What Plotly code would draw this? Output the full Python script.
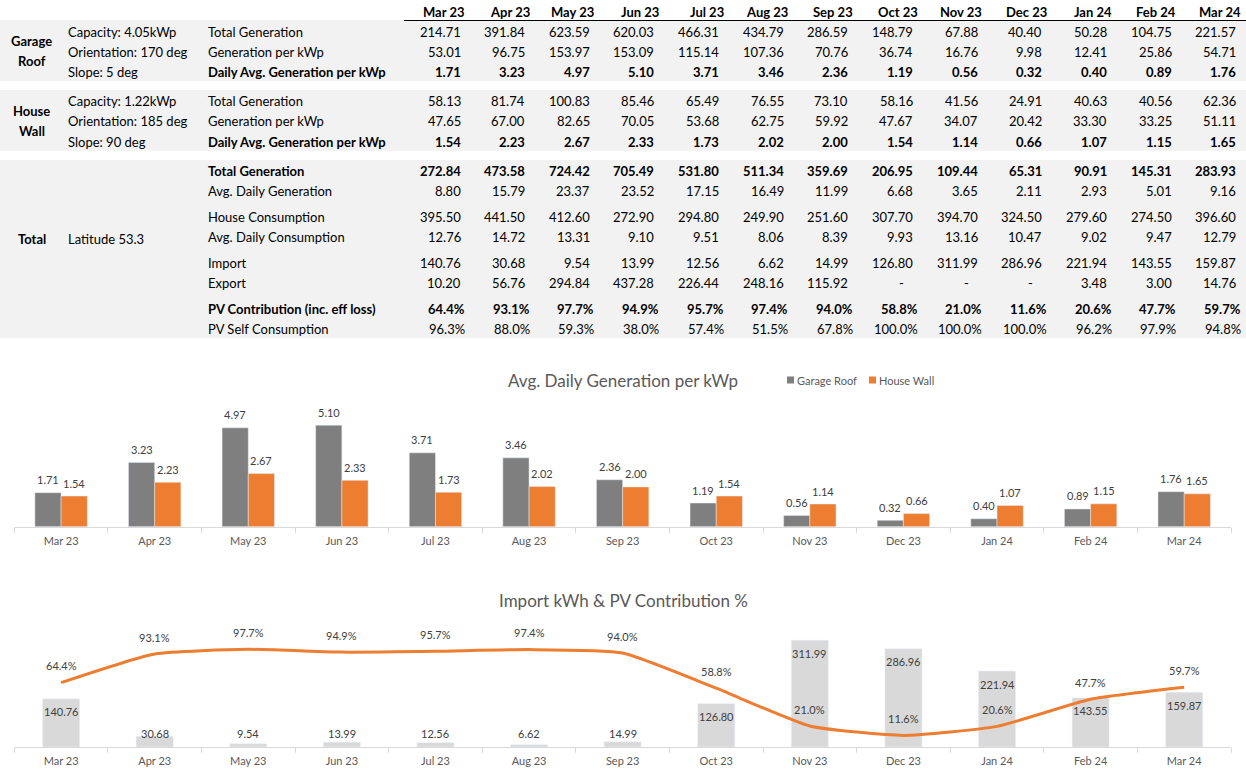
import plotly.graph_objects as go

W, H = 1246, 779

# ---------------- data ----------------
months = ["Mar 23", "Apr 23", "May 23", "Jun 23", "Jul 23", "Aug 23", "Sep 23",
          "Oct 23", "Nov 23", "Dec 23", "Jan 24", "Feb 24", "Mar 24"]

garage_total = [214.71, 391.84, 623.59, 620.03, 466.31, 434.79, 286.59, 148.79, 67.88, 40.40, 50.28, 104.75, 221.57]
garage_per_kwp = [53.01, 96.75, 153.97, 153.09, 115.14, 107.36, 70.76, 36.74, 16.76, 9.98, 12.41, 25.86, 54.71]
garage_daily = [1.71, 3.23, 4.97, 5.10, 3.71, 3.46, 2.36, 1.19, 0.56, 0.32, 0.40, 0.89, 1.76]

wall_total = [58.13, 81.74, 100.83, 85.46, 65.49, 76.55, 73.10, 58.16, 41.56, 24.91, 40.63, 40.56, 62.36]
wall_per_kwp = [47.65, 67.00, 82.65, 70.05, 53.68, 62.75, 59.92, 47.67, 34.07, 20.42, 33.30, 33.25, 51.11]
wall_daily = [1.54, 2.23, 2.67, 2.33, 1.73, 2.02, 2.00, 1.54, 1.14, 0.66, 1.07, 1.15, 1.65]

total_gen = [272.84, 473.58, 724.42, 705.49, 531.80, 511.34, 359.69, 206.95, 109.44, 65.31, 90.91, 145.31, 283.93]
avg_daily_gen = [8.80, 15.79, 23.37, 23.52, 17.15, 16.49, 11.99, 6.68, 3.65, 2.11, 2.93, 5.01, 9.16]
house_cons = [395.50, 441.50, 412.60, 272.90, 294.80, 249.90, 251.60, 307.70, 394.70, 324.50, 279.60, 274.50, 396.60]
avg_daily_cons = [12.76, 14.72, 13.31, 9.10, 9.51, 8.06, 8.39, 9.93, 13.16, 10.47, 9.02, 9.47, 12.79]
import_kwh = [140.76, 30.68, 9.54, 13.99, 12.56, 6.62, 14.99, 126.80, 311.99, 286.96, 221.94, 143.55, 159.87]
export_kwh = [10.20, 56.76, 294.84, 437.28, 226.44, 248.16, 115.92, None, None, None, 3.48, 3.00, 14.76]
pv_contribution = [64.4, 93.1, 97.7, 94.9, 95.7, 97.4, 94.0, 58.8, 21.0, 11.6, 20.6, 47.7, 59.7]
pv_self_consumption = [96.3, 88.0, 59.3, 38.0, 57.4, 51.5, 67.8, 100.0, 100.0, 100.0, 96.2, 97.9, 94.8]

garage_info = ["Capacity: 4.05kWp", "Orientation: 170 deg", "Slope: 5 deg"]
wall_info = ["Capacity: 1.22kWp", "Orientation: 185 deg", "Slope: 90 deg"]
total_info = "Latitude 53.3"

# ---------------- style ----------------
FONT = "Lato"
TXT = "#000000"
GRAY_BG = "#f2f2f2"
C_GARAGE = "#7f7f7f"
C_WALL = "#ed7d31"
C_IMPORT = "#d9d9d9"
C_AXIS = "#d9d9d9"
C_TITLE = "#595959"
C_LABEL = "#404040"


def fx(x):
    return x / W


def fy(y):
    return 1 - y / H


annotations = []
shapes = []


def txt(x, y, s, anchor="left", bold=False, size=13, color=TXT):
    annotations.append(dict(
        xref="paper", yref="paper", x=fx(x), y=fy(y), text=f"<b>{s}</b>" if bold else s,
        showarrow=False, xanchor=anchor, yanchor="middle",
        font=dict(family=FONT, size=size, color=color)))


# ---------------- table ----------------
for y0, y1 in [(20, 81), (90, 150.7), (160, 338.3)]:
    shapes.append(dict(type="rect", xref="paper", yref="paper", x0=0, x1=1,
                       y0=fy(y1), y1=fy(y0), fillcolor=GRAY_BG, line=dict(width=0), layer="below"))
shapes.append(dict(type="line", xref="paper", yref="paper", x0=fx(404), x1=1,
                   y0=fy(20.5), y1=fy(20.5), line=dict(color="#000000", width=1)))

COL_RIGHT0 = 462.5
COL_STEP = 64.64
PCT_PAD = 4.7
LABEL_X = 205.5
INFO_X = 65.5


def col_x(i):
    return COL_RIGHT0 + COL_STEP * i


for i, m in enumerate(months):
    txt(col_x(i) + PCT_PAD, 11.7, m, anchor="right", bold=True)

rows = [
    (31.7, "Total Generation", garage_total, "num", False),
    (51.7, "Generation per kWp", garage_per_kwp, "num", False),
    (71.7, "Daily Avg. Generation per kWp", garage_daily, "num", True),
    (101.0, "Total Generation", wall_total, "num", False),
    (121.0, "Generation per kWp", wall_per_kwp, "num", False),
    (141.7, "Daily Avg. Generation per kWp", wall_daily, "num", True),
    (171.0, "Total Generation", total_gen, "num", True),
    (191.0, "Avg. Daily Generation", avg_daily_gen, "num", False),
    (217.3, "House Consumption", house_cons, "num", False),
    (237.3, "Avg. Daily Consumption", avg_daily_cons, "num", False),
    (263.3, "Import", import_kwh, "num", False),
    (283.3, "Export", export_kwh, "num", False),
    (309.3, "PV Contribution (inc. eff loss)", pv_contribution, "pct", True),
    (329.3, "PV Self Consumption", pv_self_consumption, "pct", False),
]

for y, label, vals, kind, bold in rows:
    txt(LABEL_X, y, label, bold=bold)
    for i, v in enumerate(vals):
        if v is None:
            txt(col_x(i) - 13.5, y, "-", anchor="center", bold=bold)
        elif kind == "pct":
            txt(col_x(i) + PCT_PAD, y, f"{v:.1f}%", anchor="right", bold=bold)
        else:
            txt(col_x(i), y, f"{v:,.2f}", anchor="right", bold=bold)

for y, s in zip([31.7, 51.7, 71.7], garage_info):
    txt(INFO_X, y, s)
for y, s in zip([101.0, 121.0, 141.7], wall_info):
    txt(INFO_X, y, s)
txt(INFO_X, 239.3, total_info)

txt(31.7, 40.7, "Garage", anchor="center", bold=True)
txt(31.7, 60.7, "Roof", anchor="center", bold=True)
txt(31.7, 110.7, "House", anchor="center", bold=True)
txt(31.7, 130.7, "Wall", anchor="center", bold=True)
txt(32.0, 239.3, "Total", anchor="center", bold=True)

# ---------------- charts ----------------
X_LEFT, X_RIGHT = 14.3, 1231.0
X_DOM = [fx(X_LEFT), fx(X_RIGHT)]
CAT_PX = (X_RIGHT - X_LEFT) / len(months)
C1_BOTTOM, C1_TOP = 526.7, 407.3
C1_RANGE = [0, 6]
C2_BOTTOM, C2_TOP = 747.0, 617.0
C2_RANGE = [0, 380.1]
C2_PCT_RANGE = [0, 130]

fig = go.Figure()

bw = 0.28
fig.add_trace(go.Bar(
    x=months, y=garage_daily, name="Garage Roof", marker_color=C_GARAGE,
    width=bw, offset=-bw, showlegend=False, xaxis="x", yaxis="y"))
fig.add_trace(go.Bar(
    x=months, y=wall_daily, name="House Wall", marker_color=C_WALL,
    width=bw, offset=0, showlegend=False, xaxis="x", yaxis="y"))

for vals, sign in [(garage_daily, -1), (wall_daily, 1)]:
    for m, v in zip(months, vals):
        annotations.append(dict(xref="x", yref="y", x=m, y=v, text=f"{v:.2f}",
                                showarrow=False, yanchor="middle", yshift=13,
                                xshift=sign * bw / 2 * CAT_PX,
                                font=dict(family=FONT, size=11, color=C_LABEL)))

fig.add_trace(go.Bar(
    x=months, y=import_kwh, name="Import kWh", marker_color=C_IMPORT, width=0.395,
    showlegend=False, xaxis="x2", yaxis="y2"))
fig.add_trace(go.Scatter(
    x=months, y=pv_contribution, name="PV Contribution %", mode="lines",
    line=dict(color=C_WALL, width=3, shape="spline", smoothing=0.5),
    showlegend=False, xaxis="x2", yaxis="y3"))

# import bar labels (inside end, kept above the base for short bars)
c2_scale = (C2_BOTTOM - C2_TOP) / (C2_RANGE[1] - C2_RANGE[0])
for m, v in zip(months, import_kwh):
    ylab = max(v - 13 / c2_scale, 14 / c2_scale)
    annotations.append(dict(xref="x2", yref="y2", x=m, y=ylab, text=f"{v:.2f}",
                            showarrow=False, yanchor="middle",
                            font=dict(family=FONT, size=11, color=C_LABEL)))
for m, v in zip(months, pv_contribution):
    annotations.append(dict(xref="x2", yref="y3", x=m, y=v, text=f"{v:.1f}%",
                            showarrow=False, yanchor="middle", yshift=16.7,
                            font=dict(family=FONT, size=11, color=C_LABEL)))

# chart titles
txt(623, 380, "Avg. Daily Generation per kWp", anchor="center", size=17, color=C_TITLE)
txt(623, 600, "Import kWh &amp; PV Contribution %", anchor="center", size=17, color=C_TITLE)

# legend of chart 1 (Excel style small squares)
for (sx, name, col) in [(787, "Garage Roof", C_GARAGE), (869, "House Wall", C_WALL)]:
    shapes.append(dict(type="rect", xref="paper", yref="paper", x0=fx(sx), x1=fx(sx + 7),
                       y0=fy(383.5), y1=fy(376.5), fillcolor=col, line=dict(width=0)))
    txt(sx + 8, 380, name, size=11, color=C_TITLE)

xax = dict(type="category", showline=True, linecolor=C_AXIS, linewidth=1,
           ticks="outside", tickson="boundaries", ticklen=5, tickcolor=C_AXIS,
           showgrid=False, zeroline=False, fixedrange=True, ticklabelstandoff=4,
           tickfont=dict(family=FONT, size=11, color=C_TITLE))

fig.update_layout(
    width=W, height=H, margin=dict(l=0, r=0, t=0, b=0, pad=0),
    paper_bgcolor="white", plot_bgcolor="white",
    barmode="overlay", showlegend=False,
    xaxis=dict(domain=X_DOM, anchor="y", **xax),
    yaxis=dict(domain=[fy(C1_BOTTOM), fy(C1_TOP)], range=C1_RANGE, visible=False, fixedrange=True),
    xaxis2=dict(domain=X_DOM, anchor="y2", **xax),
    yaxis2=dict(domain=[fy(C2_BOTTOM), fy(C2_TOP)], range=C2_RANGE, visible=False, fixedrange=True),
    yaxis3=dict(overlaying="y2", range=C2_PCT_RANGE, visible=False, fixedrange=True),
    annotations=annotations, shapes=shapes,
    font=dict(family=FONT, color=TXT),
)

fig.write_html("out.html", config={"displayModeBar": False},
               post_script="document.body.style.margin='0';document.body.style.overflow='hidden';")
